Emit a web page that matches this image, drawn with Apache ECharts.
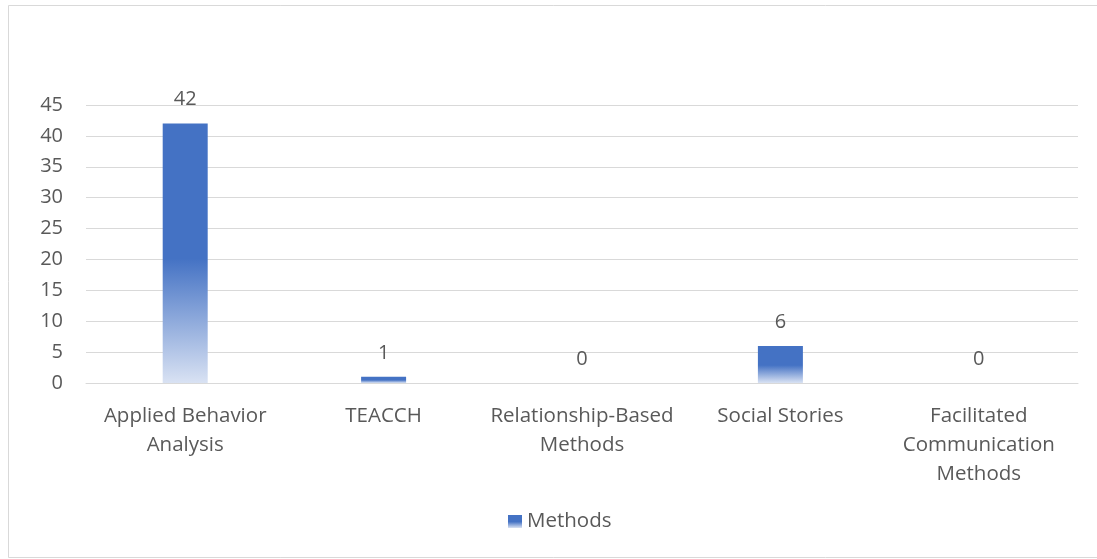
<!DOCTYPE html>
<html>
<head>
<meta charset="utf-8">
<style>
  html, body { margin: 0; padding: 0; background: #fff; }
  #chart { width: 1097px; height: 559px; }
</style>
<script src="https://cdn.jsdelivr.net/npm/echarts@6/dist/echarts.min.js"></script>
</head>
<body>
<div id="chart"></div>
<script>
// Intervention methods and how often each was reported
const categories = [
  'Applied Behavior Analysis',
  'TEACCH',
  'Relationship-Based Methods',
  'Social Stories',
  'Facilitated Communication Methods'
];
const categoryLabels = [
  'Applied Behavior\nAnalysis',
  'TEACCH',
  'Relationship-Based\nMethods',
  'Social Stories',
  'Facilitated\nCommunication\nMethods'
];
const methodsValues = [42, 1, 0, 6, 0];
const yTicks = { min: 0, max: 45, interval: 5 };

const FONT = '"Open Sans", "Noto Sans", sans-serif';
const TEXT = '#595959';

// Solid blue on the upper half of each bar, fading out toward its base
const barFill = new echarts.graphic.LinearGradient(0, 0, 0, 1, [
  { offset: 0, color: '#4472C4' },
  { offset: 0.52, color: '#4472C4' },
  { offset: 1, color: '#D9E2F3' }
]);

const chart = echarts.init(document.getElementById('chart'), null, { renderer: 'canvas' });

chart.setOption({
  animation: false,
  backgroundColor: '#ffffff',
  textStyle: { fontFamily: FONT },
  graphic: [{
    type: 'rect',
    silent: true,
    shape: { x: 8.5, y: 5.5, width: 1100, height: 552 },
    style: { fill: 'none', stroke: '#D9D9D9', lineWidth: 1 }
  }],
  grid: { left: 86, right: 19, top: 105, bottom: 176, containLabel: false },
  legend: {
    bottom: 22,
    left: 503,
    itemWidth: 14,
    itemHeight: 13,
    itemGap: 7,
    icon: 'rect',
    textStyle: { color: TEXT, fontSize: 20.5, fontFamily: FONT },
    data: ['Methods']
  },
  xAxis: {
    type: 'category',
    data: categories,
    axisLine: { show: true, lineStyle: { color: '#D9D9D9', width: 1 } },
    axisTick: { show: false },
    axisLabel: {
      color: TEXT,
      fontSize: 20.5,
      fontFamily: FONT,
      lineHeight: 29,
      margin: 19,
      interval: 0,
      formatter: (v, i) => categoryLabels[i]
    }
  },
  yAxis: {
    type: 'value',
    min: yTicks.min,
    max: yTicks.max,
    interval: yTicks.interval,
    axisLine: { show: false },
    axisTick: { show: false },
    splitLine: { lineStyle: { color: '#D9D9D9', width: 1 } },
    axisLabel: { color: TEXT, fontSize: 20, fontFamily: FONT, margin: 23 }
  },
  series: [{
    name: 'Methods',
    type: 'bar',
    data: methodsValues,
    barWidth: 45,
    itemStyle: { color: barFill },
    label: {
      show: true,
      position: 'top',
      distance: 14,
      color: TEXT,
      fontSize: 20,
      fontFamily: FONT
    }
  }]
});
</script>
</body>
</html>
